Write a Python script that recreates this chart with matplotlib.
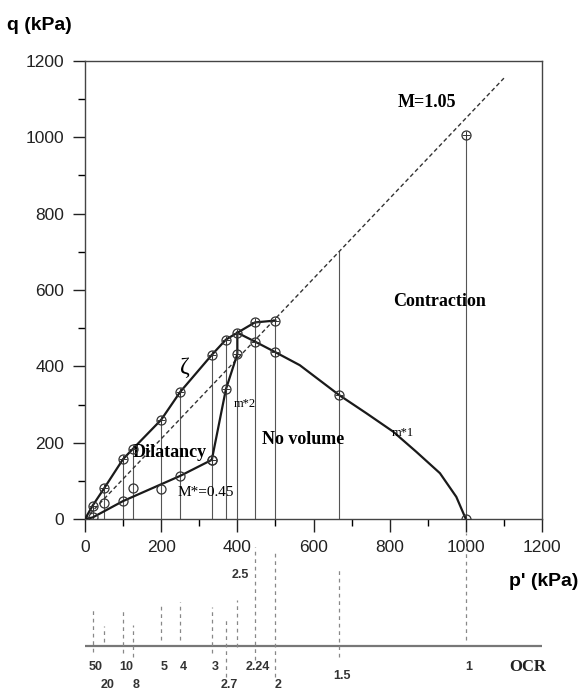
import numpy as np
import matplotlib
matplotlib.use("Agg")
import matplotlib.pyplot as plt

plt.rcParams['font.family'] = ['Liberation Sans', 'DejaVu Sans']

# upper (zeta) stress path points
zeta_p = [0, 20, 50, 100, 125, 200, 250, 333, 370, 400, 446, 500]
zeta_q = [0, 35, 80, 157, 183, 260, 333, 430, 470, 488, 515, 520]

# m*2 branch
m2_p = [333, 370, 400, 400]
m2_q = [155, 340, 432, 488]

# m*1 descending curve (points with markers + shape points)
m1_p = [400, 446, 500, 564, 667, 739, 809, 870, 932, 975, 1000]
m1_q = [488, 465, 437, 403, 325, 277, 229, 176, 120, 58, 0]
m1_mark_p = [446, 500, 667, 1000]
m1_mark_q = [465, 437, 325, 0]

# M*=0.45 line
low_p = [0, 20, 100, 250, 333]
low_q = [0, 4, 47, 113, 155]
extra_p = [50, 125, 200]
extra_q = [43, 80, 78]

# isolated point on critical state line
top_p = [1000]
top_q = [1006]

# vertical guide lines
vert_p = [20, 50, 100, 125, 200, 250, 333, 370, 400, 446, 500, 667, 1000]
vert_q = [35, 80, 157, 183, 260, 333, 430, 470, 488, 515, 520, 700, 1006]

# critical state line M=1.05
csl_p = [0, 1100]
csl_M = 1.05

# OCR scale
ocr_labels = ["50", "20", "10", "8", "5", "4", "3", "2.7", "2.5", "2.24", "2", "1.5", "1"]
ocr_p = [20, 50, 100, 125, 200, 250, 333, 370, 400, 446, 500, 667, 1000]
ocr_row = [0, 1, 0, 1, 0, 0, 0, 1, 2, 0, 1, 3, 0]
dash_top = [86, 70, 88, 71, 93, 94, 89, 79, 96, 149, 143, 126, 163]
dash_bot = [44, 54, 43, 39, 56, 56, 43, 19, 49, 36, 19, 39, 56]

fig = plt.figure(figsize=(5.82, 6.96), dpi=100)
ax = fig.add_axes([85/582, 1 - 519/696, 457/582, 458/696])

lc = "#1a1a1a"
for p, q in zip(vert_p, vert_q):
    ax.plot([p, p], [0, q], color="#555555", lw=0.8, zorder=1)

ax.plot(csl_p, [csl_M * v for v in csl_p], color="#333333", lw=1.0,
        linestyle=(0, (3, 2)), zorder=2)

ax.plot(zeta_p, zeta_q, color=lc, lw=1.6, zorder=3)
ax.plot(m2_p, m2_q, color=lc, lw=1.6, zorder=3)
ax.plot(m1_p, m1_q, color=lc, lw=1.6, zorder=3)
ax.plot(low_p, low_q, color=lc, lw=1.6, zorder=3)

mk = dict(marker="o", markersize=6.5, markerfacecolor="none",
          markeredgecolor="#333333", markeredgewidth=0.9, linestyle="none", zorder=4)
cross = dict(marker="+", markersize=6, color="#333333",
             markeredgewidth=0.7, linestyle="none", zorder=4)
ax.plot(zeta_p[1:], zeta_q[1:], **mk)
ax.plot(zeta_p[1:], zeta_q[1:], **cross)
ax.plot(m2_p[:3], m2_q[:3], **mk)
ax.plot(m2_p[:3], m2_q[:3], **cross)
ax.plot(m1_mark_p, m1_mark_q, **mk)
ax.plot(m1_mark_p, m1_mark_q, **cross)
ax.plot(low_p[1:], low_q[1:], **mk)
ax.plot(extra_p, extra_q, **mk)
ax.plot(top_p, top_q, **mk)
ax.plot(top_p, top_q, **cross)

ax.set_xlim(0, 1200)
ax.set_ylim(0, 1200)
ax.set_xticks(np.arange(0, 1201, 200))
ax.set_yticks(np.arange(0, 1201, 200))
ax.set_xticks(np.arange(100, 1200, 200), minor=True)
ax.set_yticks(np.arange(100, 1200, 200), minor=True)
ax.tick_params(which="major", direction="out", length=9, width=1, labelsize=12.5,
               colors="#222222", pad=6)
ax.tick_params(which="minor", direction="out", length=5, width=1)
for s in ax.spines.values():
    s.set_color("#444444")
    s.set_linewidth(1.0)

serif = ['Liberation Serif', 'DejaVu Serif']
ax.text(898, 1092, "M=1.05", family=serif, fontweight="bold", fontsize=13,
        ha="center", va="center")
ax.text(930, 571, "Contraction", family=serif, fontweight="bold", fontsize=13,
        ha="center", va="center")
ax.text(574, 207, "No volume", family=serif, fontweight="bold", fontsize=13,
        ha="center", va="center")
ax.text(223, 174, "Dilatancy", family=serif, fontweight="bold", fontsize=13,
        ha="center", va="center")
ax.text(318, 69, "M*=0.45", family=serif, fontsize=11, ha="center", va="center")
ax.text(420, 301, "m*2", family=serif, fontsize=9, ha="center", va="center")
ax.text(835, 226, "m*1", family=serif, fontsize=9, ha="center", va="center")
ax.text(262, 396, "\u03b6", family=serif, fontsize=17, ha="center", va="center")

fig.text(7/582, 1 - 25/696, "q (kPa)", fontsize=14, fontweight="bold",
         ha="left", va="center")
fig.text(578/582, 1 - 582/696, "p' (kPa)", fontsize=14, fontweight="bold",
         ha="right", va="center")

# OCR strip
ax2 = fig.add_axes([85/582, 0, 457/582, 166/696], frameon=False)
ax2.set_xlim(0, 1200)
ax2.set_ylim(0, 166)
ax2.axis("off")
ax2.plot([0, 1200], [50, 50], color="#777777", lw=1.6)
for p, t, b in zip(ocr_p, dash_top, dash_bot):
    ax2.plot([p, p], [b, t], color="#888888", lw=0.9, linestyle=(0, (3, 3)))
row_y = [29, 11, 121, 20]
for lab, p, r in zip(ocr_labels, ocr_p, ocr_row):
    ax2.text(p + 8, row_y[r], lab, fontsize=9, fontweight="bold", color="#333333",
             ha="center", va="center")
ax2.text(1163, 29, "OCR", family=serif, fontweight="bold", fontsize=12,
         ha="center", va="center", color="#222222")

fig.savefig("out.png", dpi=100)
